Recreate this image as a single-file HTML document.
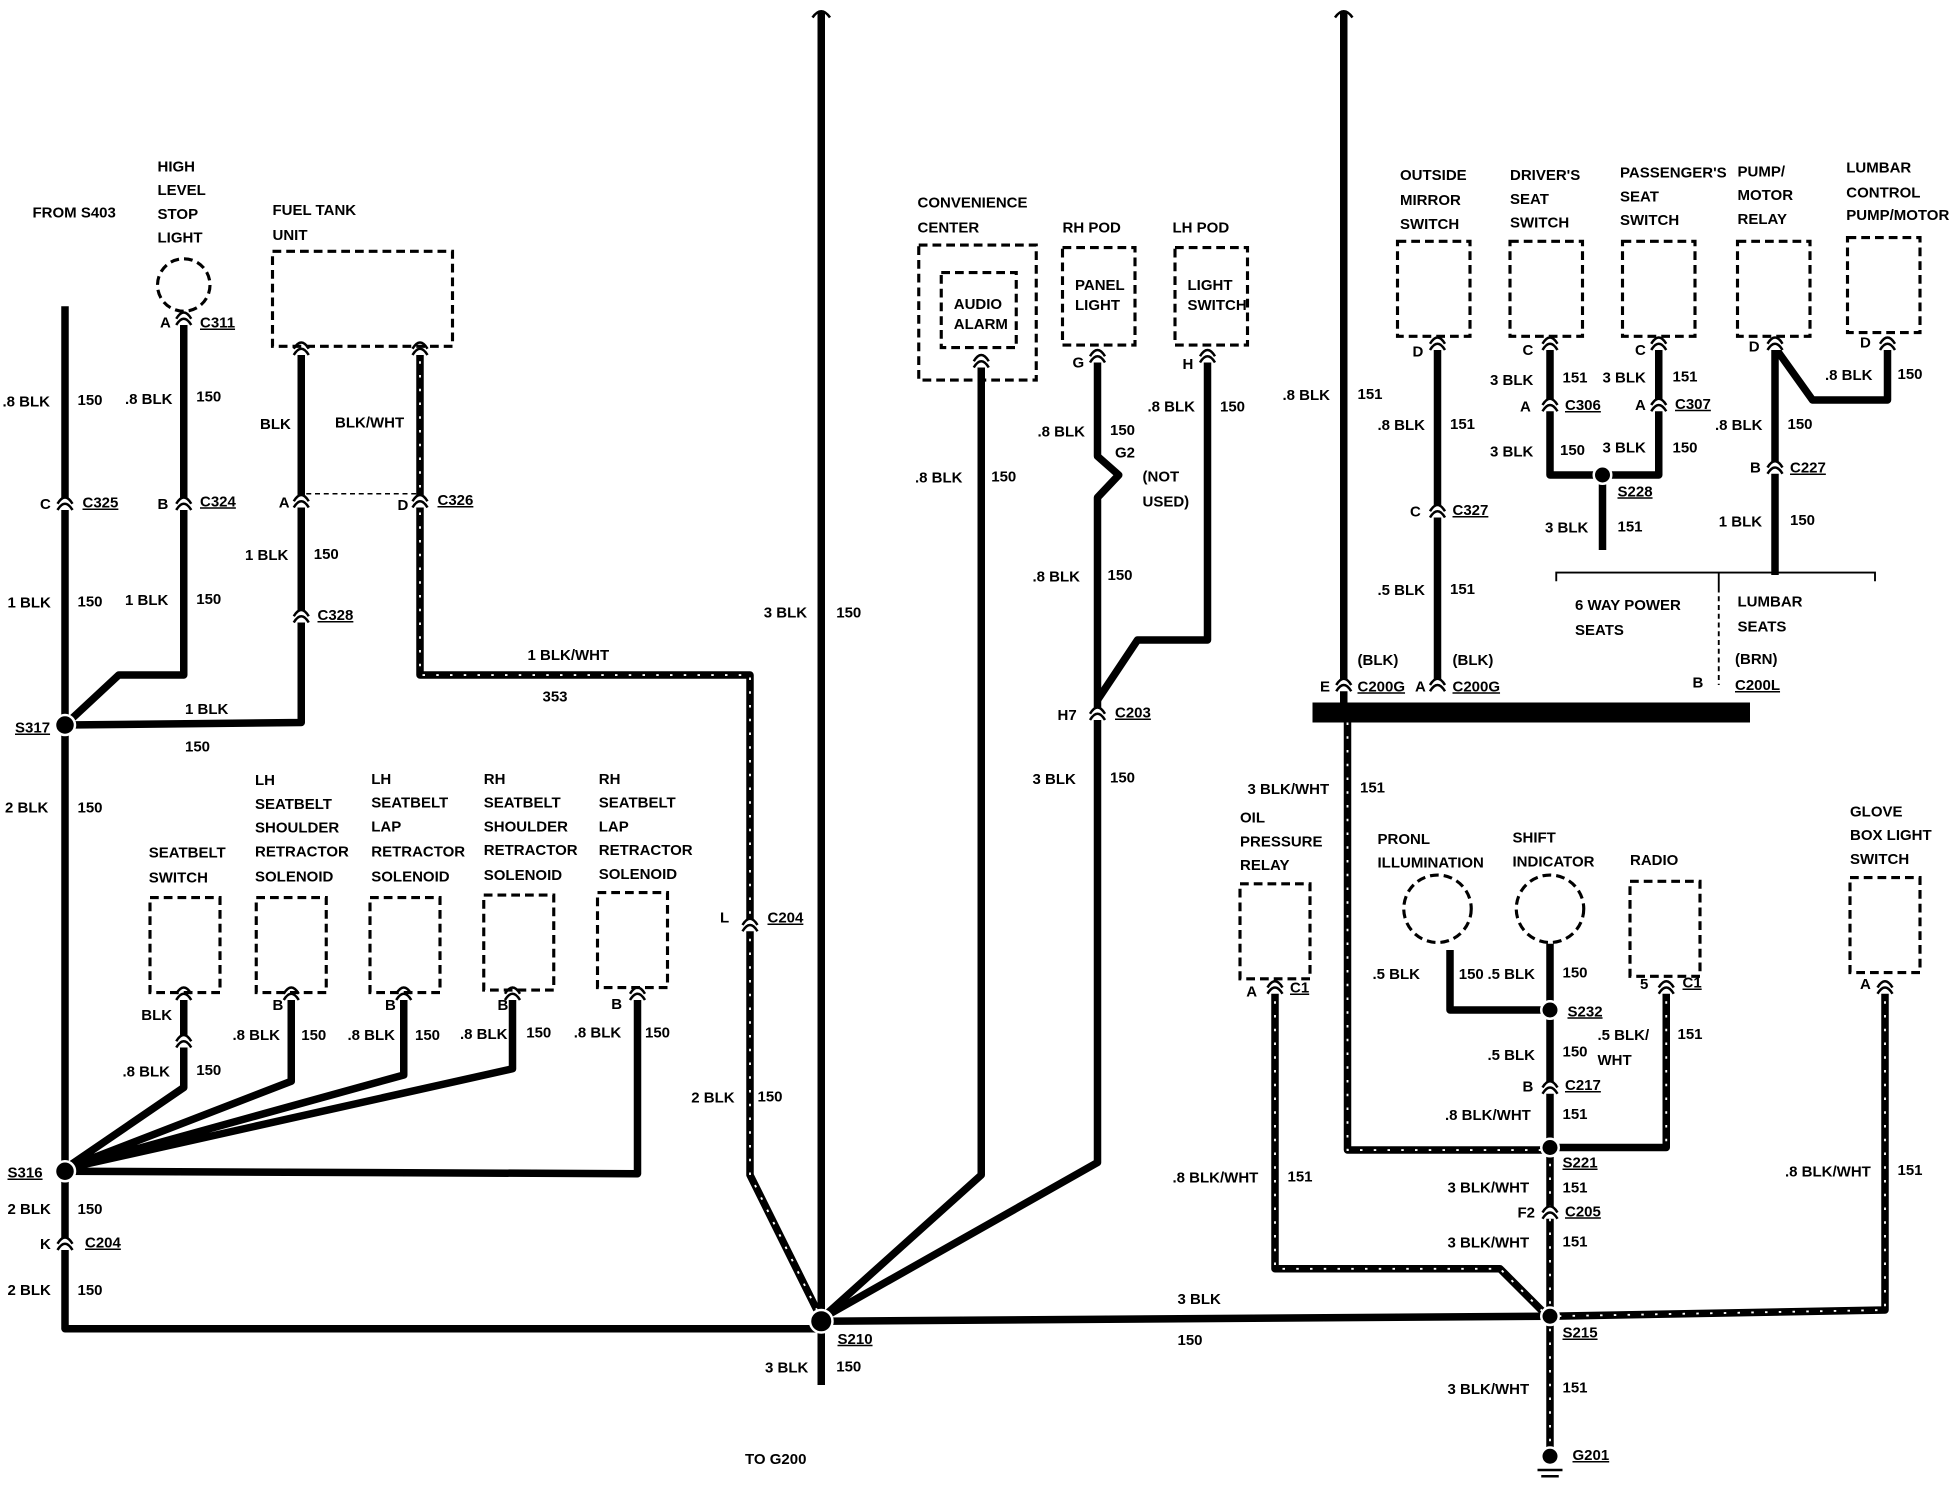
<!DOCTYPE html>
<html><head><meta charset="utf-8"><style>
html,body{margin:0;padding:0;background:#fff;}
svg{display:block}
text{font-family:"Liberation Sans",sans-serif;font-weight:bold;font-size:12px;fill:#000}
.w{stroke:#000;stroke-width:6;fill:none;stroke-linejoin:round}
.s{stroke:#fff;stroke-width:1.5;fill:none;stroke-dasharray:2,9}
.d{stroke:#000;stroke-width:2.5;fill:none;stroke-dasharray:7,4}
.u{text-decoration:underline}
</style></head><body>
<svg width="1960" height="1504" viewBox="0 0 1568 1203.2" xmlns="http://www.w3.org/2000/svg">
<defs><g id="c"><path d="M-6,5 Q0,-5 6,5 M-6,10 Q0,0 6,10" stroke="#000" stroke-width="2" fill="#fff"/></g></defs>
<!-- wires -->
<path class="w" d="M52,245 V1063 H657 M657,1057 L1240,1053"/>
<path class="w" d="M147,250 V540 H95 L52,580"/>
<path class="w" d="M52,580 L241,578 V280"/>
<path class="w" d="M657,10 V1108"/>
<path class="w" d="M785,290 V940 L657,1055"/>
<path class="w" d="M878,285 V365 L895,380 L878,398 V930 L657,1055"/>
<path class="w" d="M966,285 V512 H910 L878,560"/>
<path class="w" d="M1075,10 V570"/>
<rect x="1050" y="562" width="350" height="16" fill="#000"/>
<path class="w" d="M1150,275 V552"/>
<path class="w" d="M1240,275 V380 H1327 V275"/>
<path class="w" d="M1282,380 V440"/>
<path class="w" d="M1420,278 V460 M1420,278 L1450,320 H1510 V280"/>
<path d="M1245,465 V458 H1500 V465 M1375,458 V470" stroke="#000" stroke-width="1.5" fill="none"/>
<path d="M1375,470 V548" stroke="#000" stroke-width="1.5" fill="none" stroke-dasharray="4,3"/>
<path class="w" d="M1240,755 V1168"/>
<path class="w" d="M1160,760 V808 H1240"/>
<path class="w" d="M52,935 L147,870 V795 M52,935 L233,865 V795 M52,935 L323,860 V795 M52,935 L410,855 V795 M52,937 L510,939 V795"/>
<!-- striped -->
<path class="w" d="M336,278 V540 H600 V940 L657,1055"/><path class="s" d="M336,278 V540 H600 V940 L657,1055"/>
<path class="w" d="M1078,578 V920 H1240"/><path class="s" d="M1078,578 V920 H1240"/>
<path class="w" d="M1333,790 V918 H1240"/><path class="s" d="M1333,790 V918"/>
<path class="w" d="M1020,790 V1015 H1200 L1240,1055"/><path class="s" d="M1020,790 V1015 H1200 L1240,1055"/>
<path class="w" d="M1508,790 V1048 L1240,1053"/><path class="s" d="M1508,790 V1048 L1240,1053"/>
<path class="s" d="M1240,920 V1168"/>
<path d="M245,395 H336" stroke="#000" stroke-width="1.2" stroke-dasharray="4,3"/>
<!-- splices -->
<g fill="#000" stroke="#fff" stroke-width="2"><circle cx="52" cy="580" r="8"/><circle cx="52" cy="937" r="8"/><circle cx="657" cy="1057" r="9"/><circle cx="1282" cy="380" r="7"/><circle cx="1240" cy="808" r="7"/><circle cx="1240" cy="918" r="7"/><circle cx="1240" cy="1053" r="7"/><circle cx="1240" cy="1165" r="7"/></g>
<path d="M1230,1176 H1250 M1233,1181 H1247" stroke="#000" stroke-width="2"/>
<path d="M650,14 Q657,4 664,14 M1068,14 Q1075,4 1082,14" stroke="#000" stroke-width="2" fill="none"/>
<!-- connectors -->
<use href="#c" x="147" y="250"/><use href="#c" x="52" y="398"/><use href="#c" x="147" y="398"/><use href="#c" x="241" y="396"/><use href="#c" x="336" y="396"/><use href="#c" x="241" y="488"/>
<use href="#c" x="52" y="990"/><use href="#c" x="600" y="735"/><use href="#c" x="147" y="828"/><use href="#c" x="878" y="566"/>
<use href="#c" x="1150" y="404"/><use href="#c" x="1075" y="543"/><use href="#c" x="1150" y="543"/><use href="#c" x="1240" y="319"/><use href="#c" x="1327" y="319"/><use href="#c" x="1420" y="369"/>
<use href="#c" x="1240" y="865"/><use href="#c" x="1240" y="965"/><use href="#c" x="1020" y="785"/><use href="#c" x="1333" y="785"/><use href="#c" x="1508" y="785"/>
<use href="#c" x="1240" y="270"/><use href="#c" x="1327" y="270"/><use href="#c" x="1420" y="270"/><use href="#c" x="1510" y="270"/><use href="#c" x="1150" y="270"/>
<use href="#c" x="785" y="284"/><use href="#c" x="878" y="280"/><use href="#c" x="966" y="280"/><use href="#c" x="241" y="274"/><use href="#c" x="336" y="274"/>
<use href="#c" x="147" y="790"/><use href="#c" x="233" y="790"/><use href="#c" x="323" y="790"/><use href="#c" x="410" y="790"/><use href="#c" x="510" y="790"/>
<!-- boxes -->
<circle class="d" cx="147" cy="228" r="21"/>
<rect class="d" x="218" y="201" width="144" height="76"/>
<rect class="d" x="735" y="196" width="94" height="108"/><rect class="d" x="753" y="218" width="60" height="60"/>
<rect class="d" x="850" y="198" width="58" height="78"/><rect class="d" x="940" y="198" width="58" height="78"/>
<rect class="d" x="1118" y="193" width="58" height="76"/><rect class="d" x="1208" y="193" width="58" height="76"/><rect class="d" x="1298" y="193" width="58" height="76"/><rect class="d" x="1390" y="193" width="58" height="76"/><rect class="d" x="1478" y="190" width="58" height="76"/>
<rect class="d" x="120" y="718" width="56" height="76"/><rect class="d" x="205" y="718" width="56" height="76"/><rect class="d" x="296" y="718" width="56" height="76"/><rect class="d" x="387" y="716" width="56" height="76"/><rect class="d" x="478" y="714" width="56" height="76"/>
<rect class="d" x="992" y="707" width="56" height="76"/><rect class="d" x="1304" y="705" width="56" height="76"/><rect class="d" x="1480" y="702" width="56" height="76"/>
<circle class="d" cx="1150" cy="727" r="27"/><circle class="d" cx="1240" cy="727" r="27"/>
<!-- labels -->
<text x="26" y="174">FROM S403</text>
<text x="126" y="137">HIGH</text><text x="126" y="156">LEVEL</text><text x="126" y="175">STOP</text><text x="126" y="194">LIGHT</text>
<text x="218" y="172">FUEL TANK</text><text x="218" y="192">UNIT</text>
<text x="128" y="262">A</text><text class="u" x="160" y="262">C311</text>
<text x="2" y="325">.8 BLK</text><text x="62" y="324">150</text><text x="100" y="323">.8 BLK</text><text x="157" y="321">150</text>
<text x="208" y="343">BLK</text><text x="268" y="342">BLK/WHT</text>
<text x="32" y="407">C</text><text class="u" x="66" y="406">C325</text><text x="126" y="407">B</text><text class="u" x="160" y="405">C324</text>
<text x="223" y="406">A</text><text x="318" y="408">D</text><text class="u" x="350" y="404">C326</text>
<text x="6" y="486">1 BLK</text><text x="62" y="485">150</text><text x="100" y="484">1 BLK</text><text x="157" y="483">150</text>
<text x="196" y="448">1 BLK</text><text x="251" y="447">150</text><text class="u" x="254" y="496">C328</text>
<text x="422" y="528">1 BLK/WHT</text><text x="434" y="561">353</text>
<text x="148" y="571">1 BLK</text><text x="148" y="601">150</text>
<text class="u" x="12" y="586">S317</text><text x="4" y="650">2 BLK</text><text x="62" y="650">150</text>
<text x="611" y="494">3 BLK</text><text x="669" y="494">150</text>
<text x="119" y="686">SEATBELT</text><text x="119" y="706">SWITCH</text>
<text x="204" y="628">LH</text><text x="204" y="647">SEATBELT</text><text x="204" y="666">SHOULDER</text><text x="204" y="685">RETRACTOR</text><text x="204" y="705">SOLENOID</text>
<text x="297" y="627">LH</text><text x="297" y="646">SEATBELT</text><text x="297" y="665">LAP</text><text x="297" y="685">RETRACTOR</text><text x="297" y="705">SOLENOID</text>
<text x="387" y="627">RH</text><text x="387" y="646">SEATBELT</text><text x="387" y="665">SHOULDER</text><text x="387" y="684">RETRACTOR</text><text x="387" y="704">SOLENOID</text>
<text x="479" y="627">RH</text><text x="479" y="646">SEATBELT</text><text x="479" y="665">LAP</text><text x="479" y="684">RETRACTOR</text><text x="479" y="703">SOLENOID</text>
<text x="113" y="816">BLK</text><text x="98" y="861">.8 BLK</text><text x="157" y="860">150</text>
<text x="218" y="808">B</text><text x="186" y="832">.8 BLK</text><text x="241" y="832">150</text>
<text x="308" y="808">B</text><text x="278" y="832">.8 BLK</text><text x="332" y="832">150</text>
<text x="398" y="808">B</text><text x="368" y="831">.8 BLK</text><text x="421" y="830">150</text>
<text x="489" y="807">B</text><text x="459" y="830">.8 BLK</text><text x="516" y="830">150</text>
<text x="576" y="738">L</text><text class="u" x="614" y="738">C204</text>
<text x="553" y="882">2 BLK</text><text x="606" y="881">150</text>
<text class="u" x="6" y="942">S316</text><text x="6" y="971">2 BLK</text><text x="62" y="971">150</text>
<text x="32" y="999">K</text><text class="u" x="68" y="998">C204</text>
<text x="6" y="1036">2 BLK</text><text x="62" y="1036">150</text>
<text class="u" x="670" y="1075">S210</text><text x="612" y="1098">3 BLK</text><text x="669" y="1097">150</text>
<text x="596" y="1171">TO G200</text>
<text x="734" y="166">CONVENIENCE</text><text x="734" y="186">CENTER</text>
<text x="763" y="247" font-size="10">AUDIO</text><text x="763" y="263" font-size="10">ALARM</text>
<text x="850" y="186">RH POD</text><text x="938" y="186">LH POD</text>
<text x="860" y="232" font-size="10">PANEL</text><text x="860" y="248" font-size="10">LIGHT</text>
<text x="950" y="232" font-size="10">LIGHT</text><text x="950" y="248" font-size="10">SWITCH</text>
<text x="858" y="294">G</text><text x="946" y="295">H</text>
<text x="732" y="386">.8 BLK</text><text x="793" y="385">150</text>
<text x="830" y="349">.8 BLK</text><text x="888" y="348">150</text><text x="892" y="366">G2</text>
<text x="914" y="385">(NOT</text><text x="914" y="405">USED)</text>
<text x="918" y="329">.8 BLK</text><text x="976" y="329">150</text>
<text x="826" y="465">.8 BLK</text><text x="886" y="464">150</text>
<text x="846" y="576">H7</text><text class="u" x="892" y="574">C203</text>
<text x="826" y="627">3 BLK</text><text x="888" y="626">150</text>
<text x="1026" y="320">.8 BLK</text><text x="1086" y="319">151</text>
<text x="1120" y="144">OUTSIDE</text><text x="1120" y="164">MIRROR</text><text x="1120" y="183">SWITCH</text>
<text x="1208" y="144">DRIVER'S</text><text x="1208" y="163">SEAT</text><text x="1208" y="182">SWITCH</text>
<text x="1296" y="142">PASSENGER'S</text><text x="1296" y="161">SEAT</text><text x="1296" y="180">SWITCH</text>
<text x="1390" y="141">PUMP/</text><text x="1390" y="160">MOTOR</text><text x="1390" y="179">RELAY</text>
<text x="1477" y="138">LUMBAR</text><text x="1477" y="158">CONTROL</text><text x="1477" y="176">PUMP/MOTOR</text>
<text x="1130" y="285">D</text><text x="1218" y="284">C</text><text x="1308" y="284">C</text><text x="1399" y="281">D</text><text x="1488" y="278">D</text>
<text x="1102" y="344">.8 BLK</text><text x="1160" y="343">151</text>
<text x="1192" y="308">3 BLK</text><text x="1250" y="306">151</text><text x="1282" y="306">3 BLK</text><text x="1338" y="305">151</text>
<text x="1216" y="329">A</text><text class="u" x="1252" y="328">C306</text><text x="1308" y="328">A</text><text class="u" x="1340" y="327">C307</text>
<text x="1192" y="365">3 BLK</text><text x="1248" y="364">150</text><text x="1282" y="362">3 BLK</text><text x="1338" y="362">150</text>
<text class="u" x="1294" y="397">S228</text><text x="1236" y="426">3 BLK</text><text x="1294" y="425">151</text>
<text x="1460" y="304">.8 BLK</text><text x="1518" y="303">150</text>
<text x="1372" y="344">.8 BLK</text><text x="1430" y="343">150</text>
<text x="1400" y="378">B</text><text class="u" x="1432" y="378">C227</text>
<text x="1375" y="421">1 BLK</text><text x="1432" y="420">150</text>
<text x="1128" y="413">C</text><text class="u" x="1162" y="412">C327</text>
<text x="1102" y="476">.5 BLK</text><text x="1160" y="475">151</text>
<text x="1260" y="488">6 WAY POWER</text><text x="1260" y="508">SEATS</text>
<text x="1390" y="485">LUMBAR</text><text x="1390" y="505">SEATS</text><text x="1388" y="531">(BRN)</text>
<text x="1354" y="550">B</text><text class="u" x="1388" y="552">C200L</text>
<text x="1086" y="532">(BLK)</text><text x="1162" y="532">(BLK)</text>
<text x="1056" y="553">E</text><text class="u" x="1086" y="553">C200G</text><text x="1132" y="553">A</text><text class="u" x="1162" y="553">C200G</text>
<text x="998" y="635">3 BLK/WHT</text><text x="1088" y="634">151</text>
<text x="992" y="658">OIL</text><text x="992" y="677">PRESSURE</text><text x="992" y="696">RELAY</text>
<text x="1102" y="675">PRONL</text><text x="1102" y="694">ILLUMINATION</text>
<text x="1210" y="674">SHIFT</text><text x="1210" y="693">INDICATOR</text>
<text x="1304" y="692">RADIO</text>
<text x="1480" y="653">GLOVE</text><text x="1480" y="672">BOX LIGHT</text><text x="1480" y="691">SWITCH</text>
<text x="997" y="797">A</text><text class="u" x="1032" y="794">C1</text><text x="1312" y="791">5</text><text class="u" x="1346" y="790">C1</text><text x="1488" y="791">A</text>
<text x="1098" y="783">.5 BLK</text><text x="1167" y="783">150</text><text x="1190" y="783">.5 BLK</text><text x="1250" y="782">150</text>
<text class="u" x="1254" y="813">S232</text>
<text x="1190" y="848">.5 BLK</text><text x="1250" y="845">150</text><text x="1278" y="832">.5 BLK/</text><text x="1278" y="852">WHT</text><text x="1342" y="831">151</text>
<text x="1218" y="873">B</text><text class="u" x="1252" y="872">C217</text>
<text x="1156" y="896">.8 BLK/WHT</text><text x="1250" y="895">151</text>
<text class="u" x="1250" y="934">S221</text>
<text x="938" y="946">.8 BLK/WHT</text><text x="1030" y="945">151</text>
<text x="1158" y="954">3 BLK/WHT</text><text x="1250" y="954">151</text>
<text x="1214" y="974">F2</text><text class="u" x="1252" y="973">C205</text>
<text x="1158" y="998">3 BLK/WHT</text><text x="1250" y="997">151</text>
<text x="1428" y="941">.8 BLK/WHT</text><text x="1518" y="940">151</text>
<text x="942" y="1043">3 BLK</text><text x="942" y="1076">150</text>
<text class="u" x="1250" y="1070">S215</text>
<text x="1158" y="1115">3 BLK/WHT</text><text x="1250" y="1114">151</text>
<text class="u" x="1258" y="1168">G201</text>
</svg>
</body></html>
